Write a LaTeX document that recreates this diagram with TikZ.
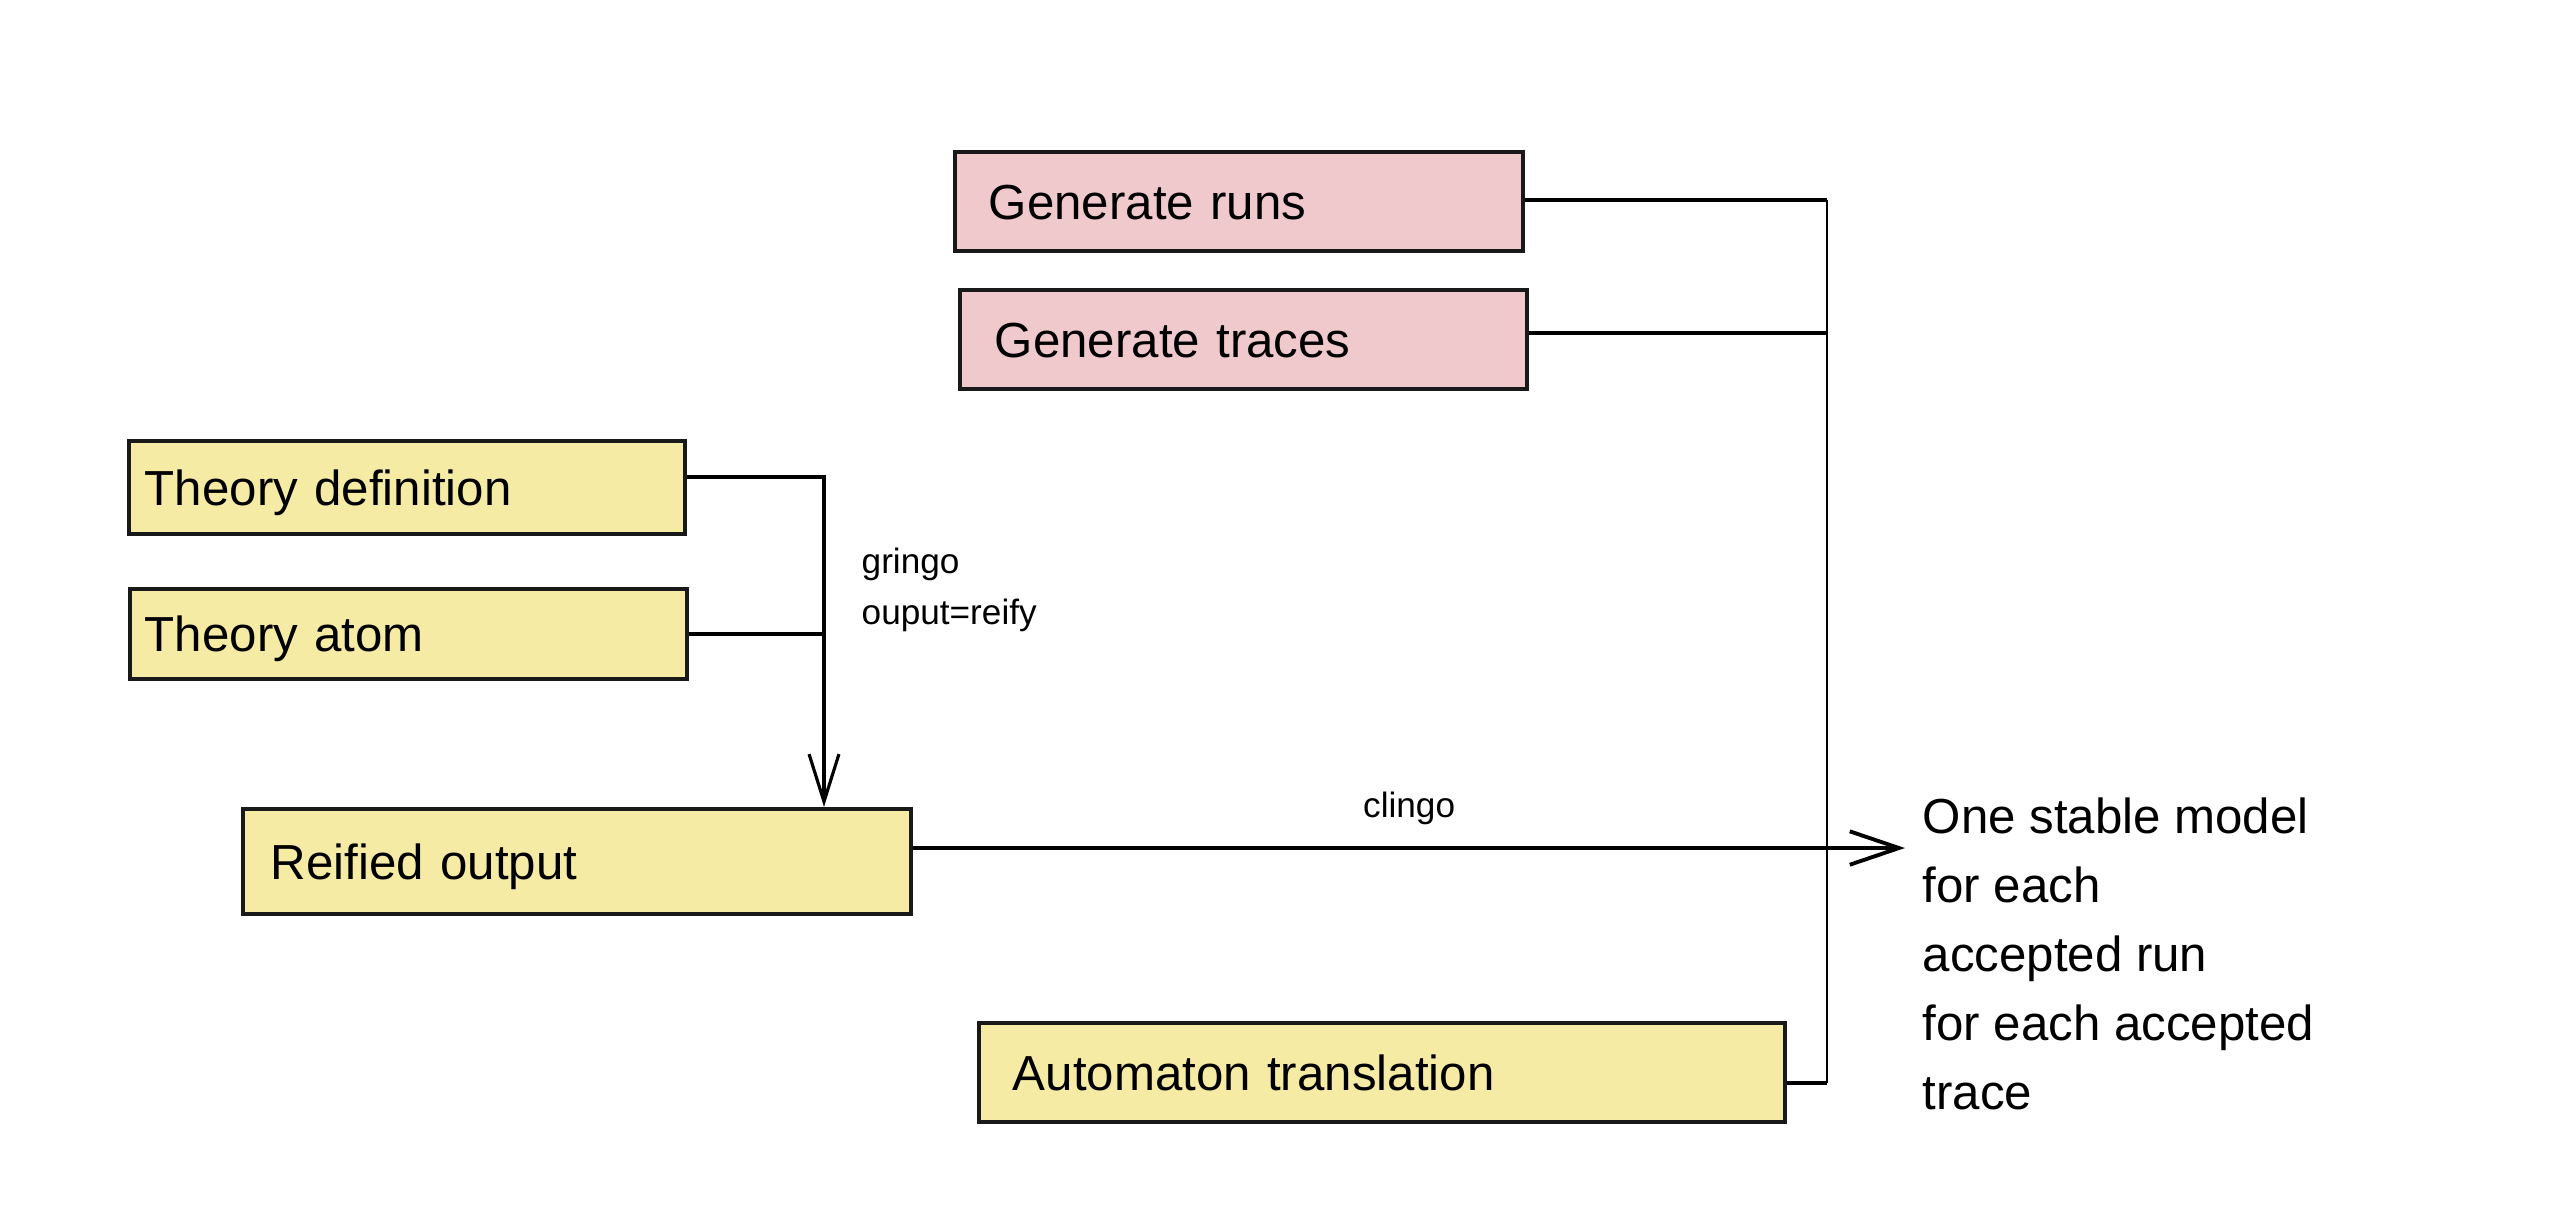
\documentclass[tikz,border=0pt]{standalone}
\usepackage{fontspec}
\setmainfont{Liberation Sans}
\usetikzlibrary{arrows.meta}
\definecolor{boxyellow}{HTML}{F5EBA4}
\definecolor{boxpink}{HTML}{F0C9CD}
\tikzset{
  basebox/.style={draw=black!90, line width=1.2pt, rectangle, inner ysep=0pt,
    text height=10pt, text depth=0pt, align=left,
    font=\fontsize{14}{17}\selectfont},
  ybox/.style={basebox, fill=boxyellow},
  pbox/.style={basebox, fill=boxpink},
  conn/.style={line width=0.9pt, draw=black},
  smalllbl/.style={font=\fontsize{10}{14.5}\selectfont, inner sep=0pt, align=left},
  barb/.style={-{Straight Barb[length=13.5pt, width=8.5pt, line width=0.9pt]}}
}
\begin{document}
\begin{tikzpicture}[x=0.01cm, y=-0.01cm]
\useasboundingbox (0,0) rectangle (2558,1220);
% boxes
\node[pbox, text width=5.00cm, inner xsep=0.34cm, minimum height=0.99cm] (gr) at (1239,201.5) {Generate runs};
\node[pbox, text width=4.97cm, inner xsep=0.35cm, minimum height=0.99cm] (gt) at (1243.5,339.5) {Generate traces};
\node[ybox, text width=5.24cm, inner xsep=0.16cm, minimum height=0.93cm] (td) at (407,487.5) {Theory definition};
\node[ybox, text width=5.27cm, inner xsep=0.15cm, minimum height=0.90cm] (ta) at (408.5,634) {Theory atom};
\node[ybox, text width=6.12cm, inner xsep=0.28cm, minimum height=1.05cm] (ro) at (577,861.5) {Reified output};
\node[ybox, text width=7.38cm, inner xsep=0.34cm, minimum height=0.99cm] (at) at (1382,1072.5) {Automaton translation};
% result text
\node[anchor=north west, inner sep=0pt, align=left, font=\fontsize{14}{19.6}\selectfont] (res) at (1922,797)
  {One stable model\\for each\\accepted run\\for each accepted\\trace};
% gringo connectors
\coordinate (gj) at (824,477);
\draw[conn, barb] (td.east |- gj) -- (gj) -- (gj |- ro.north);
\draw[conn] (ta.east) -- (ta.east -| gj);
\node[smalllbl, anchor=north west] (gringo) at (861,547) {gringo\\ouput=reify};
% right bus
\coordinate (bus) at (1827,200);
\coordinate (btr) at (1827,333);
\coordinate (atj) at (1827,1083);
\draw[conn] (gr.east |- bus) -- (bus);
\draw[conn] (gt.east |- btr) -- (btr);
\draw[conn, line width=0.75pt] (bus) -- (atj);
\draw[conn] (atj) -- (at.east |- atj);
% clingo arrow
\coordinate (tip) at (1905,848);
\draw[conn, line width=1.1pt, -{Straight Barb[length=14pt, width=9.5pt, line width=1.1pt]}] (ro.east |- tip) -- (tip)
  node[midway, above=0.21cm, smalllbl] (clingo) {clingo};
\end{tikzpicture}
\end{document}
